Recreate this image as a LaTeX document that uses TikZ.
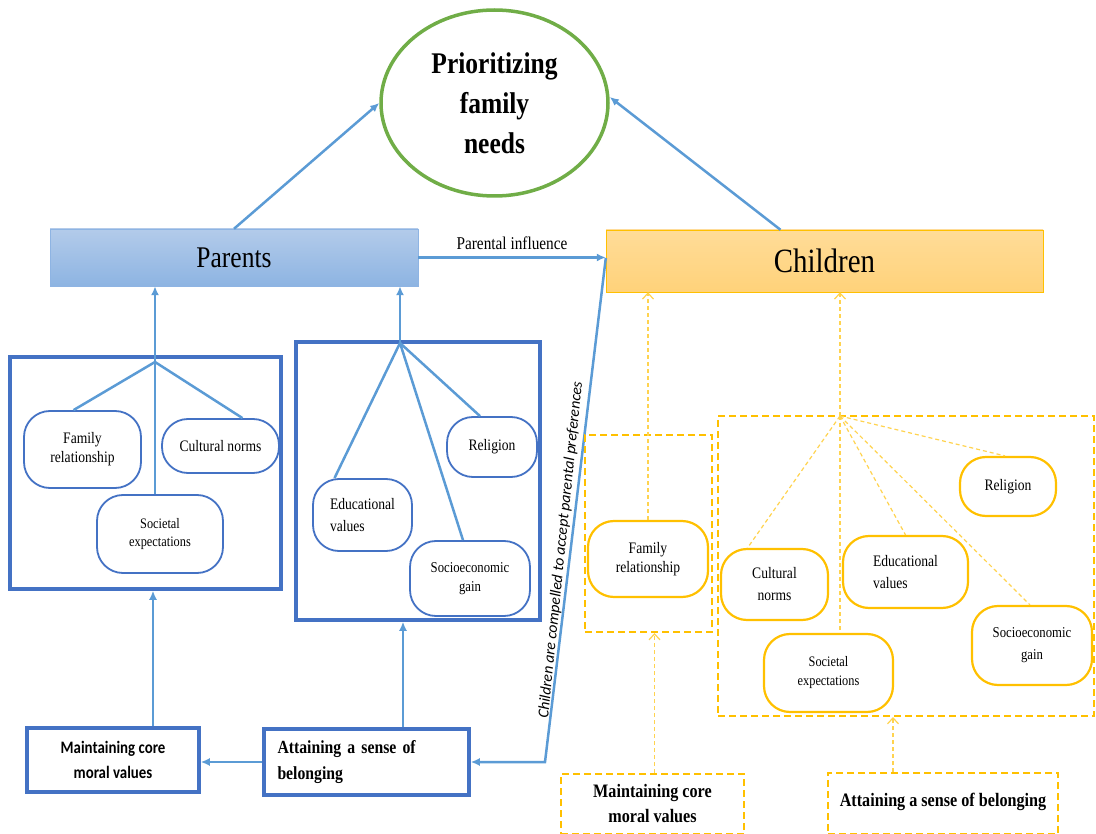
\documentclass[tikz,border=0pt]{standalone}
\usepackage{fontspec}
\newfontfamily\tmsfnt[FakeStretch=0.85]{Liberation Serif}
\newfontfamily\calfnt[FakeStretch=0.85]{Carlito}
\newfontfamily\calitfnt{Carlito}
\usetikzlibrary{shapes.geometric,arrows.meta,calc}
\definecolor{lblue}{HTML}{5B9BD5}
\definecolor{bblue}{HTML}{4472C4}
\definecolor{gre}{HTML}{70AD47}
\definecolor{org}{HTML}{FFC000}
\definecolor{orgl}{HTML}{FFD34F}
\definecolor{ptop}{HTML}{B3CBEA}
\definecolor{pbot}{HTML}{8DB4E2}
\definecolor{pbord}{HTML}{8EB4E3}
\definecolor{ctop}{HTML}{FFDC98}
\definecolor{cbot}{HTML}{FFD27A}
\begin{document}
\begin{tikzpicture}[x=1pt,y=-1pt,
  wh/.style 2 args={minimum width=#1pt,minimum height=#2pt},
  conn/.style={draw=lblue,line width=2.5pt,-{Latex[length=9pt,width=8pt]}},
  ln/.style={draw=lblue,line width=2.5pt},
  rb/.style={draw=bblue,line width=1.8pt,rounded corners=26pt,inner sep=0pt,align=center,font=\tmsfnt\fontsize{16}{19}\selectfont},
  ob/.style={draw=org,line width=2.2pt,rounded corners=26pt,inner sep=0pt,align=center,font=\tmsfnt\fontsize{16}{19}\selectfont},
  bigb/.style={draw=bblue,line width=3.5pt,inner sep=0pt},
  dbox/.style={draw=org,line width=2pt,dash pattern=on 7pt off 4pt,inner sep=0pt},
  oconn/.style={draw=orgl,line width=1.2pt,dash pattern=on 4pt off 3pt,-{Straight Barb[length=6pt,width=11pt]}},
  oln/.style={draw=orgl,line width=1.2pt,dash pattern=on 4pt off 3pt},
]
\useasboundingbox (0,0) rectangle (1096,834);

% top
\node[ellipse,draw=gre,line width=3.5pt,wh={227}{186},inner sep=0pt,align=center,
  font=\tmsfnt\bfseries\fontsize{30}{40}\selectfont] (ell) at (494.5,103) {Prioritizing\\family\\needs};
\node[draw=pbord,top color=ptop,bottom color=pbot,wh={368}{57},inner sep=0pt,
  font=\tmsfnt\fontsize{30}{36}\selectfont] (par) at (234,257.5) {Parents};
\node[draw=org,top color=ctop,bottom color=cbot,wh={437}{62},inner sep=0pt,
  font=\tmsfnt\fontsize{34}{40}\selectfont] (chi) at (824.5,261) {Children};

\draw[conn] (par.north) -- (ell.west);
\coordinate (chs) at ($(chi.north)+(-44,0)$);
\draw[conn] (chs) -- ($(ell.east)+(0,-6)$);
\draw[conn] (par.east) -- (par.east -| chi.west)
  node[midway,above=3pt,font=\tmsfnt\fontsize{18}{20}\selectfont] {Parental influence};

% left group
\node[bigb,wh={271}{232}] (lbox) at (145.5,473) {};
\node[bigb,wh={244}{278}] (mbox) at (418,481) {};
\node[rb,wh={117}{77}] (lfam) at (82.5,449.5) {Family\\relationship};
\node[rb,wh={117}{54}] (lcul) at (220.5,446) {Cultural norms};
\node[rb,wh={126}{78},font=\tmsfnt\fontsize{14.5}{18}\selectfont] (lsoc) at (160,534) {Societal\\expectations};
\node[rb,wh={90}{60}] (mrel) at (492,447) {Religion};
\node[rb,wh={99}{72},align=left,font=\tmsfnt\fontsize{16}{22}\selectfont] (medu) at (362.5,515) {Educational\\values};
\node[rb,wh={120}{75},font=\tmsfnt\fontsize{15}{19}\selectfont] (msoc) at (470,578.5) {Socioeconomic\\gain};

\coordinate (lj) at (155,362);
\coordinate (mj) at (400,343);
\draw[conn] (lj) -- (lj |- par.south);
\draw[conn] (mj) -- (mj |- par.south);
\draw[ln] (lj) -- ($(lfam.north)+(-9,0)$);
\draw[ln] (lj) -- ($(lcul.north)+(22,0)$);
\draw[ln] (lj) -- (lj |- lsoc.north);
\draw[ln] (mj) -- ($(medu.north)+(-28,0)$);
\draw[ln] (mj) -- ($(msoc.north)+(-7,0)$);
\draw[ln] (mj) -- ($(mrel.north)+(-12,0)$);

\node[bigb,wh={172}{64},align=center,font=\calfnt\bfseries\fontsize{17.5}{25}\selectfont] (lma) at (113,760) {Maintaining core\\moral values};
\node[bigb,wh={205}{66},text width=178pt,align=left,font=\tmsfnt\bfseries\fontsize{18.5}{26}\selectfont] (lat) at (366.5,762) {Attaining a sense of\\belonging};

\coordinate (lmau) at ($(lma.north)+(40,0)$);
\draw[conn] (lmau) -- (lmau |- lbox.south);
\coordinate (latu) at ($(lat.north)+(36.5,0)$);
\draw[conn] (latu) -- (latu |- mbox.south);
\draw[conn] (lat.west) -- (lat.west -| lma.east);

\coordinate (bend) at (545,762);
\draw[conn] ($(chi.west)+(0,-3)$) -- (bend) -- (lat.east);
\node[rotate=84.2,font=\calitfnt\itshape\fontsize{15.5}{18}\selectfont] (lab) at (561,550) {Children are compelled to accept parental preferences};

% right group
\node[dbox,wh={127}{197}] (rb1) at (648.5,533.5) {};
\node[dbox,wh={376}{300}] (rb2) at (906,566) {};
\node[ob,wh={120}{76}] (rfam) at (648,559) {Family\\relationship};
\node[ob,wh={107}{71},font=\tmsfnt\fontsize{16}{22}\selectfont] (rcul) at (774.5,584.5) {Cultural\\norms};
\node[ob,wh={125}{72},align=left,font=\tmsfnt\fontsize{16}{22}\selectfont] (redu) at (905.5,572) {Educational\\values};
\node[ob,wh={96}{59}] (rrel) at (1008,486.5) {Religion};
\node[ob,wh={120}{79},font=\tmsfnt\fontsize{15}{22}\selectfont] (rsoe) at (1032,645.5) {Socioeconomic\\gain};
\node[ob,wh={129}{78},font=\tmsfnt\fontsize{14.5}{19}\selectfont] (rsoc) at (828.5,673) {Societal\\expectations};

\coordinate (rj) at (840,416);
\draw[oconn] (rfam.north) -- (rfam.north |- chi.south);
\draw[oconn] (rj) -- (rj |- chi.south);
\draw[oln] (rj) -- ($(rcul.north)+(-27,0)$);
\draw[oln] (rj) -- (rj |- rsoc.north);
\draw[oln] (rj) -- (redu.north);
\draw[oln] (rj) -- ($(rsoe.north)+(-2,0)$);
\draw[oln] (rj) -- ($(rrel.north)+(-3,0)$);

\node[dbox,wh={183}{60},align=center,font=\tmsfnt\bfseries\fontsize{19}{25}\selectfont] (rma) at (652.5,804) {Maintaining core\\moral values};
\node[dbox,wh={230}{61},font=\tmsfnt\bfseries\fontsize{19}{25}\selectfont] (rat) at (943,803.5) {\raisebox{8pt}{Attaining a sense of belonging}};
\coordinate (rmau) at ($(rma.north)+(2,0)$);
\draw[oconn] (rmau) -- (rmau |- rb1.south);
\coordinate (ratu) at ($(rat.north)+(-50,0)$);
\draw[oconn] (ratu) -- (ratu |- rb2.south);
\end{tikzpicture}
\end{document}
